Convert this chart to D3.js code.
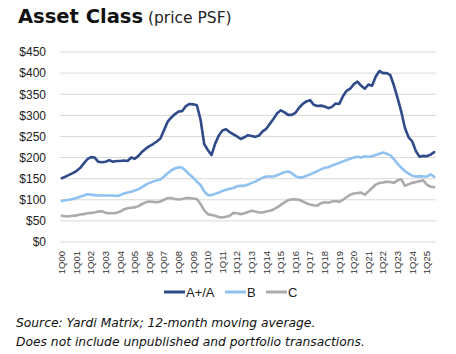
<!DOCTYPE html>
<html><head><meta charset="utf-8">
<script src="https://cdn.jsdelivr.net/npm/d3@7"></script>
<style>body{margin:0;background:#fff}svg{display:block}</style>
</head><body>
<svg id="c" width="456" height="354"></svg>
<script>
const tickLabels = ["1Q00","1Q01","1Q02","1Q03","1Q04","1Q05","1Q06","1Q07","1Q08","1Q09","1Q10","1Q11","1Q12","1Q13","1Q14","1Q15","1Q16","1Q17","1Q18","1Q19","1Q20","1Q21","1Q22","1Q23","1Q24","1Q25"];
const quarters = ["1Q","2Q","3Q","4Q"];
const categories = [];
for (let y = 0; y <= 25; y++) for (let q = 0; q < 4; q++) {
  if (y === 25 && q > 2) break;
  categories.push(quarters[q] + String(y).padStart(2, "0"));
}
const seriesA = [151,155,159,163,168,175,186,196,201,200,190,189,190,194,190,192,192,193,192,200,197,204,214,221,227,232,238,245,265,285,295,303,309,310,322,327,326,324,290,232,218,206,233,252,264,267,260,255,250,244,248,253,251,249,252,262,268,280,292,305,312,307,301,301,306,318,327,333,336,325,322,323,321,317,320,328,327,345,358,363,374,380,370,363,373,370,392,405,400,400,395,370,340,308,270,248,238,215,202,204,203,207,213];
const seriesB = [97,99,100,102,104,107,110,113,112,111,110,110,110,110,110,109,111,115,117,119,122,125,130,136,140,143,146,148,155,163,170,174,177,176,168,160,152,143,135,120,111,111,114,117,121,124,126,128,132,133,133,136,140,143,148,152,155,155,155,158,162,165,167,163,156,153,153,157,160,164,168,172,176,177,181,184,187,191,194,197,200,202,200,203,202,203,206,209,212,209,205,196,185,176,168,162,157,155,156,155,155,160,155];
const seriesC = [62,61,61,62,63,65,66,68,69,70,72,73,69,68,68,69,72,77,80,81,82,85,90,94,96,95,94,96,100,104,104,102,101,102,104,104,103,102,90,75,66,64,62,59,58,60,62,69,68,66,68,71,74,72,70,70,72,74,77,82,88,94,99,101,101,100,96,92,89,87,86,92,94,93,96,97,95,100,106,112,115,116,117,112,120,128,136,140,141,143,142,140,146,148,133,137,140,142,144,146,136,131,130];
const seriesNames = ["A+/A","B","C"];
const colors = ["#2F4B8A","#8FC1F1","#ABABAB"];
const yTicks = [0,50,100,150,200,250,300,350,400,450];

const svg = d3.select("#c");
const x = d3.scaleBand().domain(categories).range([60, 436]).paddingInner(0).paddingOuter(0);
const y = d3.scaleLinear().domain([0, 450]).range([242, 52]);
const cx = d => x(d) + x.bandwidth() / 2;

// title
const t = svg.append("text").attr("x", 18).attr("y", 23);
t.append("tspan").text("Asset Class").attr("font-family", "DejaVu Sans").attr("font-weight", "bold").attr("font-size", 19.5).attr("fill", "#111");
t.append("tspan").text(" (price PSF)").attr("font-family", "DejaVu Sans").attr("font-size", 15.5).attr("fill", "#222");

// grid
svg.append("g").selectAll("line").data(yTicks).join("line")
  .attr("x1", 60).attr("x2", 436).attr("y1", d => y(d)).attr("y2", d => y(d))
  .attr("stroke", "#D9D9D9").attr("stroke-width", 1);

// y axis labels
const yAxis = d3.axisLeft(y).tickValues(yTicks).tickFormat(d => "$" + d).tickSize(0).tickPadding(0);
const gy = svg.append("g").attr("transform", "translate(46,0)").call(yAxis);
gy.select(".domain").remove();
gy.selectAll("text").attr("font-family", "Liberation Sans").attr("font-size", 12).attr("fill", "#222");

// x axis labels
const xAxis = d3.axisBottom(x).tickValues(tickLabels).tickSize(0).tickPadding(0);
const gx = svg.append("g").attr("transform", "translate(0,251)").call(xAxis);
gx.select(".domain").remove();
gx.selectAll("text").attr("font-family", "Liberation Sans").attr("font-size", 9.5).attr("fill", "#333")
  .attr("transform", "rotate(-90)").attr("text-anchor", "end").attr("x", 0).attr("y", 0).attr("dy", "0.35em").attr("dx", 0);

// lines
const line = d3.line().x((d, i) => cx(categories[i])).y(d => y(d)).curve(d3.curveLinear);
[seriesA, seriesB, seriesC].forEach((s, k) => {
  svg.append("path").datum(s).attr("d", line).attr("fill", "none")
    .attr("stroke", colors[k]).attr("stroke-width", 2.6).attr("stroke-linejoin", "round").attr("stroke-linecap", "round");
});
svg.selectAll("path").filter((d, i) => i === 0).raise();

// legend
const legX = [164, 225, 266];
const lg = svg.append("g");
seriesNames.forEach((n, k) => {
  lg.append("line").attr("x1", legX[k]).attr("x2", legX[k] + 21).attr("y1", 292).attr("y2", 292)
    .attr("stroke", colors[k]).attr("stroke-width", 3);
  lg.append("text").attr("x", legX[k] + 22).attr("y", 296.5).text(n)
    .attr("font-family", "Liberation Sans").attr("font-size", 13).attr("fill", "#222");
});

// source
const src = ["Source: Yardi Matrix; 12-month moving average.", "Does not include unpublished and portfolio transactions."];
svg.append("g").selectAll("text").data(src).join("text")
  .attr("x", 16).attr("y", (d, i) => 327 + i * 19).text(d => d)
  .attr("font-family", "DejaVu Sans").attr("font-style", "italic").attr("font-size", 12.3).attr("fill", "#111");
</script>
</body></html>
